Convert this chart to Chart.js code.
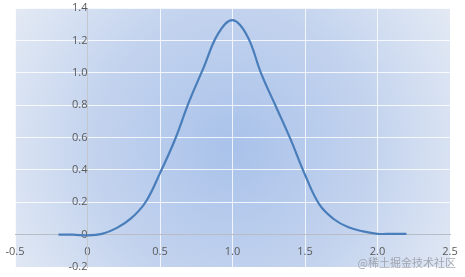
<!DOCTYPE html>
<html>
<head>
<meta charset="utf-8">
<script src="https://cdn.jsdelivr.net/npm/chart.js@4/dist/chart.umd.min.js"></script>
<style>
  html, body { margin: 0; padding: 0; background: #fff; }
  #wrap { width: 465px; height: 277px; position: relative; }
</style>
</head>
<body>
<div id="wrap"><canvas id="kde"></canvas></div>
<script>
// valores
var xs = [-0.2, -0.1, 0, 0.1, 0.2, 0.3, 0.4, 0.5, 0.6, 0.7, 0.8, 0.9, 1.0,
          1.1, 1.2, 1.3, 1.4, 1.5, 1.6, 1.7, 1.8, 1.9, 2.0, 2.1, 2.2];
var ys = [0.0, 0.0, -0.005, 0.005, 0.04, 0.1, 0.2, 0.38, 0.58, 0.82, 1.03, 1.24, 1.325,
          1.23, 0.99, 0.79, 0.59, 0.37, 0.185, 0.095, 0.045, 0.02, 0.005, 0.005, 0.005];
var xTicks = [-0.5, 0, 0.5, 1, 1.5, 2, 2.5];
var yTicks = [-0.2, 0, 0.2, 0.4, 0.6, 0.8, 1, 1.2, 1.4];

var pontos = xs.map(function (x, i) { return { x: x, y: ys[i] }; });

// fundo em gradiente radial na área do gráfico
var fundo = {
    id: 'fundo',
    beforeDraw: function (chart) {
        var a = chart.chartArea, c = chart.ctx;
        var cx = (a.left + a.right) / 2, cy = (a.top + a.bottom) / 2 + 10;
        var r = Math.sqrt(Math.pow(a.right - a.left, 2) + Math.pow(a.bottom - a.top, 2)) / 2;
        var g = c.createRadialGradient(cx, cy, 0, cx, cy, r);
        g.addColorStop(0, '#a9c2ea');
        g.addColorStop(0.55, '#c3d3ee');
        g.addColorStop(1, '#e2e9f4');
        c.save();
        c.fillStyle = g;
        c.fillRect(a.left, a.top, a.right - a.left, a.bottom - a.top);
        c.restore();
    },
    afterDraw: function (chart) {
        var c = chart.ctx;
        c.save();
        c.font = '11px "Noto Sans CJK SC"';
        c.fillStyle = 'rgba(150,155,165,0.85)';
        c.textAlign = 'right';
        c.textBaseline = 'middle';
        c.fillText('@稀土掘金技术社区', 456, 263);
        c.restore();
    }
};

var ctx = document.getElementById('kde').getContext('2d');

var grafico = new Chart(ctx, {
    type: 'scatter',
    data: {
        datasets: [{
            data: pontos,
            showLine: true,
            borderColor: '#4a7ebb',
            borderWidth: 2.2,
            pointRadius: 0,
            tension: 0.4
        }]
    },
    options: {
        responsive: true,
        maintainAspectRatio: false,
        animation: false,
        layout: { padding: 0 },
        plugins: { legend: { display: false }, tooltip: { enabled: false } },
        scales: {
            x: {
                type: 'linear',
                position: { y: 0 },
                min: -0.5,
                max: 2.5,
                afterBuildTicks: function (s) { s.ticks = xTicks.map(function (v) { return { value: v }; }); },
                afterFit: function (s) { s.paddingLeft = 15; s.paddingRight = 15; s.paddingTop = 0; s.paddingBottom = 0; },
                ticks: { color: '#595959', font: { family: 'Open Sans', size: 11 }, padding: 11, maxRotation: 0 },
                grid: { color: 'rgba(255,255,255,0.8)', lineWidth: 1, drawTicks: false },
                border: { color: '#b8bcc4', width: 1 }
            },
            y: {
                type: 'linear',
                position: { x: 0 },
                min: -0.2,
                max: 1.4,
                afterBuildTicks: function (s) { s.ticks = yTicks.map(function (v) { return { value: v }; }); },
                afterFit: function (s) { s.paddingTop = 8; s.paddingBottom = 10; s.paddingLeft = 0; s.paddingRight = 0; },
                ticks: { color: '#595959', font: { family: 'Open Sans', size: 11 }, padding: 10 },
                grid: { color: 'rgba(255,255,255,0.8)', lineWidth: 1, drawTicks: false },
                border: { color: '#c4c8ce', width: 1 }
            }
        }
    },
    plugins: [fundo]
});
</script>
</body>
</html>
